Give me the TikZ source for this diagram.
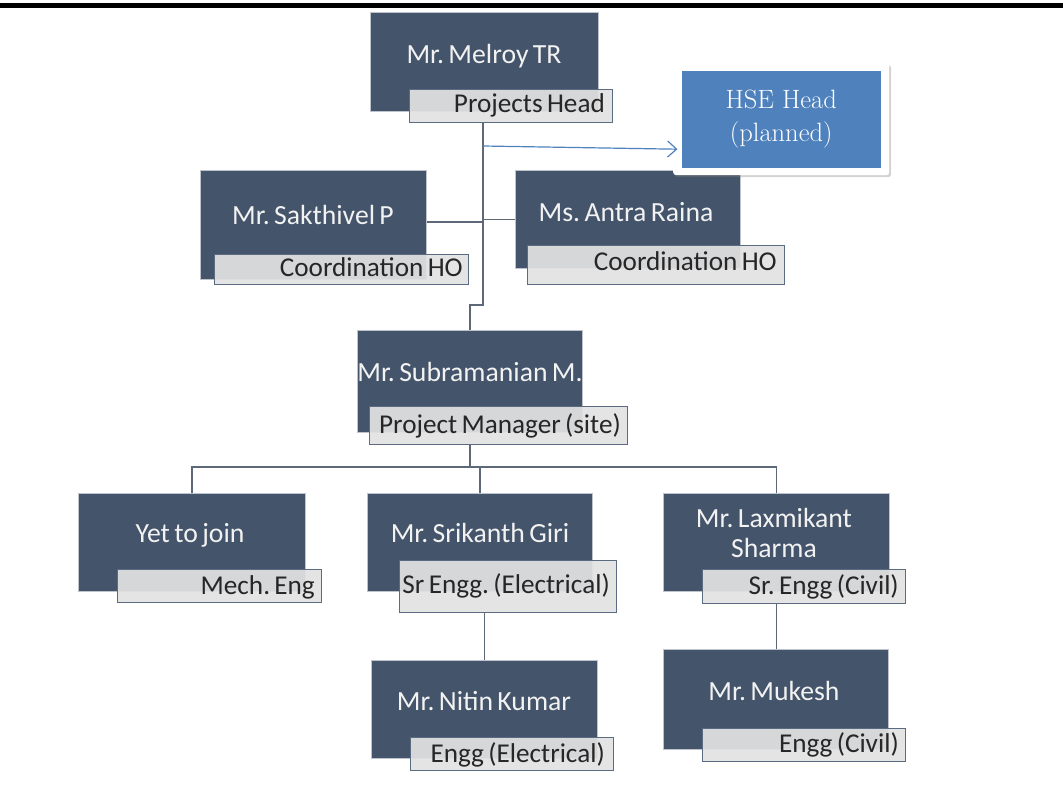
\documentclass[tikz,border=0pt]{standalone}
\usepackage{fontspec}
\newfontfamily\calib[WordSpace=0.7]{Carlito}
\usetikzlibrary{arrows.meta,shadows}
\definecolor{boxdark}{HTML}{44546A}
\definecolor{boxedge}{HTML}{BFC4CC}
\definecolor{rolefill}{HTML}{E2E2E2}
\definecolor{roleedge}{HTML}{5B6B82}
\definecolor{linkcol}{HTML}{5D6878}
\definecolor{hseblue}{HTML}{4F81BD}
\tikzset{
  person/.style={fill=boxdark, draw=boxedge, line width=1pt, anchor=north west, inner sep=0pt},
  nametext/.style={anchor=base, text=white!95!black, font=\calib\frenchspacing\fontsize{27.7}{30}\selectfont, align=center, inner sep=0pt},
  rolebox/.style={fill=rolefill, fill opacity=0.93, draw=roleedge, line width=1.1pt,
    anchor=north west, inner sep=0pt},
  roletext/.style={anchor=base east, inner sep=0pt, text=black!85,
    font=\calib\frenchspacing\fontsize{27.2}{30}\selectfont},
  conn/.style={draw=linkcol, line width=1.5pt},
  hsearrow/.style={draw=hseblue, line width=1.2pt, -{Straight Barb[length=9pt,width=16pt,line width=1.2pt]}},
}
\begin{document}
\begin{tikzpicture}[x=1pt,y=-1pt]
\useasboundingbox (0,0) rectangle (1063,787);
% rule across the top
\fill[black] (0,3) rectangle (1063,8);

% junction points of the reporting lines
\coordinate (j1) at (483,305);
\coordinate (j2) at (470,305);
\coordinate (hs) at (483,222);
\coordinate (a0) at (483,146);
\coordinate (bus) at (470,467);

% ---- people ----
\node[person, minimum width=228, minimum height=99] (melroy) at (370,12) {};
\node[person, minimum width=226, minimum height=109] (sak) at (200,170) {};
\node[person, minimum width=225, minimum height=98] (antra) at (515,170) {};
\node[person, minimum width=225, minimum height=102] (sub) at (357,330) {};
\node[person, minimum width=227, minimum height=98] (yet) at (78,493) {};
\node[person, minimum width=225, minimum height=98] (srik) at (367,493) {};
\node[person, minimum width=226, minimum height=98] (lax) at (663,493) {};
\node[person, minimum width=226, minimum height=98] (nitin) at (371,660) {};
\node[person, minimum width=225, minimum height=100] (muk) at (663,649) {};

% side links behind the role boxes
\draw[conn] (hs -| sak.east) -- (hs);
\draw[conn] (antra.west) -- (antra.west -| j1);

% ---- role boxes ----
\node[rolebox, minimum width=203, minimum height=33] (melroyR) at (409,89) {};
\node[rolebox, minimum width=254, minimum height=30] (sakR) at (214,254) {};
\node[rolebox, minimum width=257, minimum height=39] (antraR) at (527,245) {};
\node[rolebox, minimum width=258, minimum height=38] (subR) at (369,406) {};
\node[rolebox, minimum width=204, minimum height=33] (yetR) at (117,569) {};
\node[rolebox, minimum width=217, minimum height=52] (srikR) at (399,560) {};
\node[rolebox, minimum width=203, minimum height=34] (laxR) at (702,569) {};
\node[rolebox, minimum width=203, minimum height=33] (nitinR) at (410,737) {};
\node[rolebox, minimum width=203, minimum height=33] (mukR) at (702,728) {};

\node[roletext] at (605,112) {Projects Head};
\node[roletext] at (463,276) {Coordination HO};
\node[roletext] at (777,270.5) {Coordination HO};
\node[roletext] at (621,433) {Project Manager (site)};
\node[roletext] at (315,594) {Mech. Eng};
\node[roletext] at (610,593) {Sr Engg. (Electrical)};
\node[roletext] at (899,594) {Sr. Engg (Civil)};
\node[roletext] at (605,762) {Engg (Electrical)};
\node[roletext] at (899,752) {Engg (Civil)};

% ---- names ----
\node[nametext] at (484,63) {Mr. Melroy TR};
\node[nametext] at (313,224.5) {Mr. Sakthivel P};
\node[nametext] at (626,221) {Ms. Antra Raina};
\node[nametext] at (470,381) {Mr. Subramanian M.};
\node[nametext] at (190,542) {Yet to join};
\node[nametext] at (480,542) {Mr. Srikanth Giri};
\node[nametext] at (774,527) {Mr. Laxmikant};
\node[nametext] at (774,557) {Sharma};
\node[nametext] at (484,710.5) {Mr. Nitin Kumar};
\node[nametext] at (774,700.5) {Mr. Mukesh};

% ---- HSE head (planned) ----
\node[fill=white, rounded corners=3pt, drop shadow={shadow xshift=2pt, shadow yshift=-2pt, opacity=0.35},
      minimum width=216, minimum height=112, anchor=north west] (hsecard) at (673,63) {};
\node[fill=hseblue, minimum width=199, minimum height=97, inner sep=0pt, text=white,
      font=\fontsize{26.5}{33}\selectfont, align=center] (hse) at (hsecard.center) {HSE Head\\(planned)};

% ---- reporting lines ----
\draw[conn] (melroyR.south -| j1) -- (j1) -- (j2) -- (j2 |- sub.north);
\draw[hsearrow] (a0) -- ([xshift=-4pt,yshift=-30pt]hse.west);
\draw[conn] (subR.south -| bus) -- (bus);
\draw[conn] (yet.north) -- (yet.north |- bus) -- (lax.north |- bus) -- (lax.north);
\draw[conn] (srik.north) -- (srik.north |- bus);
\draw[conn] (srikR.south -| nitin.north) -- (nitin.north);
\draw[conn] (laxR.south -| lax.north) -- (lax.north |- muk.north);
\end{tikzpicture}
\end{document}
